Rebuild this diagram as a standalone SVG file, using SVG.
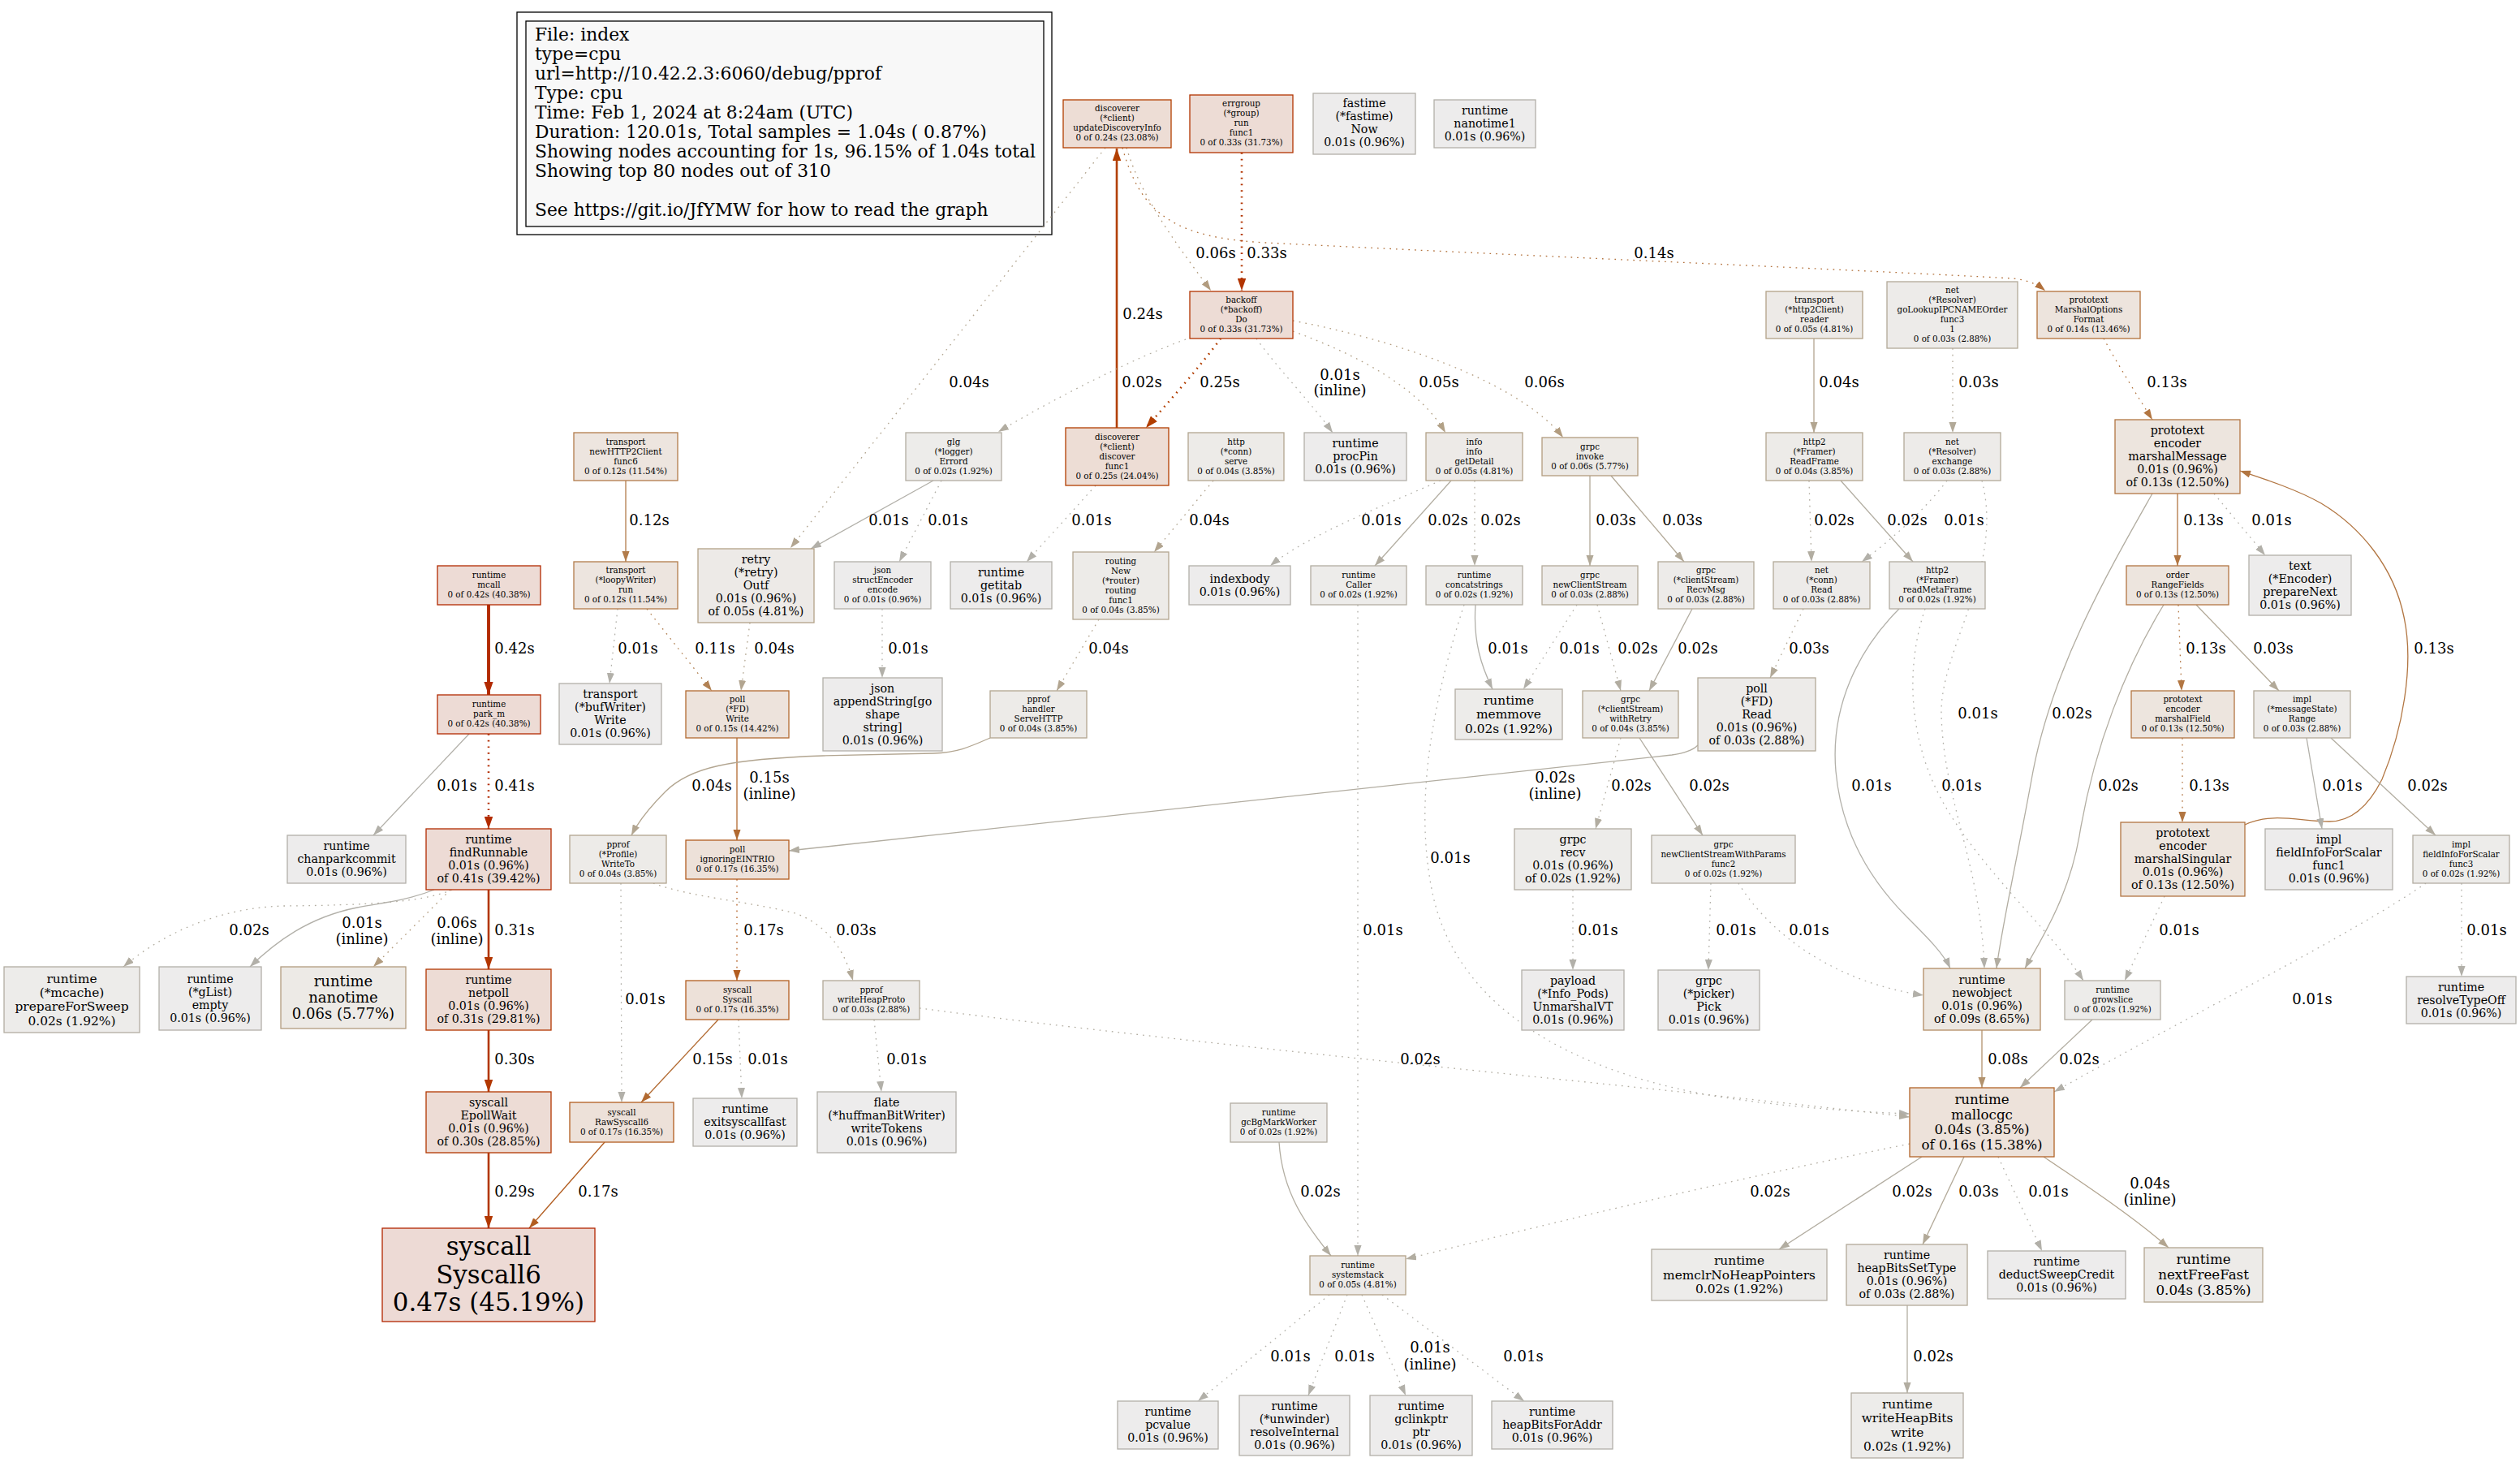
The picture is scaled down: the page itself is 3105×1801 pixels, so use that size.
<svg xmlns="http://www.w3.org/2000/svg" width="3105" height="1801" viewBox="0 0 3105 1801">
<style>
text{font-family:"DejaVu Serif","Liberation Serif",serif;text-anchor:middle;fill:#000}
.f8{font-size:10.3px}.f11{font-size:14.2px}.f12{font-size:15.4px}.f13{font-size:16.7px}.f14{font-size:18px}.f24{font-size:30.9px}
.lb{font-size:18px}
.lg{font-size:21.8px;text-anchor:start;white-space:pre}
.n rect{stroke-width:1.3}
.e path{fill:none;stroke-width:1.3}
.e .d{stroke-dasharray:1.7,6}
.e .w2{stroke-width:2.6}
.e .w3{stroke-width:3.9}
.c01 rect{fill:#edecec;stroke:#b2b0a9}.c02 rect{fill:#edecea;stroke:#b2ada1}.c03 rect{fill:#edebe9;stroke:#b2a998}
.c04 rect{fill:#edebe8;stroke:#b2a590}.c05 rect{fill:#edeae7;stroke:#b2a187}.c06 rect{fill:#edeae6;stroke:#b29c7f}
.c09 rect{fill:#ede8e2;stroke:#b28d65}.c12 rect{fill:#ede5df;stroke:#b27c4b}.c13 rect{fill:#ede5de;stroke:#b27642}
.c14 rect{fill:#ede4dd;stroke:#b2703a}.c15 rect{fill:#ede3dc;stroke:#b26a31}.c16 rect{fill:#ede2da;stroke:#b26429}
.c17 rect{fill:#ede1d9;stroke:#b25d20}.c24 rect{fill:#edddd5;stroke:#b23f00}.c25 rect{fill:#edddd5;stroke:#b23e00}
.c30 rect{fill:#eddcd5;stroke:#b23700}.c31 rect{fill:#eddcd5;stroke:#b23600}.c33 rect{fill:#eddcd5;stroke:#b23400}
.c41 rect{fill:#eddbd5;stroke:#b22b00}.c42 rect{fill:#eddbd5;stroke:#b22a00}.c47 rect{fill:#eddad5;stroke:#b22500}
.k01{stroke:#b2b0a9;marker-end:url(#m01)}.k02{stroke:#b2ada1;marker-end:url(#m02)}.k03{stroke:#b2a998;marker-end:url(#m03)}
.k04{stroke:#b2a590;marker-end:url(#m04)}.k05{stroke:#b2a187;marker-end:url(#m05)}.k06{stroke:#b29c7f;marker-end:url(#m06)}
.k08{stroke:#b2926d;marker-end:url(#m08)}.k11{stroke:#b28254;marker-end:url(#m11)}.k12{stroke:#b27c4b;marker-end:url(#m12)}
.k13{stroke:#b27642;marker-end:url(#m13)}.k14{stroke:#b2703a;marker-end:url(#m14)}.k15{stroke:#b26a31;marker-end:url(#m15)}
.k17{stroke:#b25d20;marker-end:url(#m17)}.k24{stroke:#b23f00;marker-end:url(#m24)}.k25{stroke:#b23e00;marker-end:url(#m25)}
.k29{stroke:#b23800;marker-end:url(#m29)}.k30{stroke:#b23700;marker-end:url(#m30)}.k31{stroke:#b23600;marker-end:url(#m31)}
.k33{stroke:#b23400;marker-end:url(#m33)}.k41{stroke:#b22b00;marker-end:url(#m41)}.k42{stroke:#b22a00;marker-end:url(#m42)}
</style>
<defs>
<marker id="m01" viewBox="0 0 10 7" refX="10" refY="3.5" markerWidth="13" markerHeight="9.1" markerUnits="userSpaceOnUse" orient="auto"><path d="M0,0L10,3.5L0,7z" fill="#b2b0a9"/></marker>
<marker id="m02" viewBox="0 0 10 7" refX="10" refY="3.5" markerWidth="13" markerHeight="9.1" markerUnits="userSpaceOnUse" orient="auto"><path d="M0,0L10,3.5L0,7z" fill="#b2ada1"/></marker>
<marker id="m03" viewBox="0 0 10 7" refX="10" refY="3.5" markerWidth="13" markerHeight="9.1" markerUnits="userSpaceOnUse" orient="auto"><path d="M0,0L10,3.5L0,7z" fill="#b2a998"/></marker>
<marker id="m04" viewBox="0 0 10 7" refX="10" refY="3.5" markerWidth="13" markerHeight="9.1" markerUnits="userSpaceOnUse" orient="auto"><path d="M0,0L10,3.5L0,7z" fill="#b2a590"/></marker>
<marker id="m05" viewBox="0 0 10 7" refX="10" refY="3.5" markerWidth="13" markerHeight="9.1" markerUnits="userSpaceOnUse" orient="auto"><path d="M0,0L10,3.5L0,7z" fill="#b2a187"/></marker>
<marker id="m06" viewBox="0 0 10 7" refX="10" refY="3.5" markerWidth="13" markerHeight="9.1" markerUnits="userSpaceOnUse" orient="auto"><path d="M0,0L10,3.5L0,7z" fill="#b29c7f"/></marker>
<marker id="m08" viewBox="0 0 10 7" refX="10" refY="3.5" markerWidth="13" markerHeight="9.1" markerUnits="userSpaceOnUse" orient="auto"><path d="M0,0L10,3.5L0,7z" fill="#b2926d"/></marker>
<marker id="m11" viewBox="0 0 10 7" refX="10" refY="3.5" markerWidth="13" markerHeight="9.1" markerUnits="userSpaceOnUse" orient="auto"><path d="M0,0L10,3.5L0,7z" fill="#b28254"/></marker>
<marker id="m12" viewBox="0 0 10 7" refX="10" refY="3.5" markerWidth="13" markerHeight="9.1" markerUnits="userSpaceOnUse" orient="auto"><path d="M0,0L10,3.5L0,7z" fill="#b27c4b"/></marker>
<marker id="m13" viewBox="0 0 10 7" refX="10" refY="3.5" markerWidth="13" markerHeight="9.1" markerUnits="userSpaceOnUse" orient="auto"><path d="M0,0L10,3.5L0,7z" fill="#b27642"/></marker>
<marker id="m14" viewBox="0 0 10 7" refX="10" refY="3.5" markerWidth="13" markerHeight="9.1" markerUnits="userSpaceOnUse" orient="auto"><path d="M0,0L10,3.5L0,7z" fill="#b2703a"/></marker>
<marker id="m15" viewBox="0 0 10 7" refX="10" refY="3.5" markerWidth="13" markerHeight="9.1" markerUnits="userSpaceOnUse" orient="auto"><path d="M0,0L10,3.5L0,7z" fill="#b26a31"/></marker>
<marker id="m17" viewBox="0 0 10 7" refX="10" refY="3.5" markerWidth="13" markerHeight="9.1" markerUnits="userSpaceOnUse" orient="auto"><path d="M0,0L10,3.5L0,7z" fill="#b25d20"/></marker>
<marker id="m24" viewBox="0 0 10 7" refX="10" refY="3.5" markerWidth="15" markerHeight="10.5" markerUnits="userSpaceOnUse" orient="auto"><path d="M0,0L10,3.5L0,7z" fill="#b23f00"/></marker>
<marker id="m25" viewBox="0 0 10 7" refX="10" refY="3.5" markerWidth="15" markerHeight="10.5" markerUnits="userSpaceOnUse" orient="auto"><path d="M0,0L10,3.5L0,7z" fill="#b23e00"/></marker>
<marker id="m29" viewBox="0 0 10 7" refX="10" refY="3.5" markerWidth="15" markerHeight="10.5" markerUnits="userSpaceOnUse" orient="auto"><path d="M0,0L10,3.5L0,7z" fill="#b23800"/></marker>
<marker id="m30" viewBox="0 0 10 7" refX="10" refY="3.5" markerWidth="15" markerHeight="10.5" markerUnits="userSpaceOnUse" orient="auto"><path d="M0,0L10,3.5L0,7z" fill="#b23700"/></marker>
<marker id="m31" viewBox="0 0 10 7" refX="10" refY="3.5" markerWidth="15" markerHeight="10.5" markerUnits="userSpaceOnUse" orient="auto"><path d="M0,0L10,3.5L0,7z" fill="#b23600"/></marker>
<marker id="m33" viewBox="0 0 10 7" refX="10" refY="3.5" markerWidth="15" markerHeight="10.5" markerUnits="userSpaceOnUse" orient="auto"><path d="M0,0L10,3.5L0,7z" fill="#b23400"/></marker>
<marker id="m41" viewBox="0 0 10 7" refX="10" refY="3.5" markerWidth="15" markerHeight="10.5" markerUnits="userSpaceOnUse" orient="auto"><path d="M0,0L10,3.5L0,7z" fill="#b22b00"/></marker>
<marker id="m42" viewBox="0 0 10 7" refX="10" refY="3.5" markerWidth="16" markerHeight="11.2" markerUnits="userSpaceOnUse" orient="auto"><path d="M0,0L10,3.5L0,7z" fill="#b22a00"/></marker>
</defs>
<rect x="0" y="0" width="3105" height="1801" fill="#fff"/>
<g id="legend">
<rect x="637" y="15" width="659" height="274" fill="#fff" stroke="#000" stroke-width="1.3"/>
<rect x="648" y="26" width="638" height="253" fill="#f8f8f8" stroke="#000" stroke-width="1.3"/>
<text class="lg" x="659" y="49.5">File: index</text>
<text class="lg" x="659" y="73.5">type=cpu</text>
<text class="lg" x="659" y="97.5">url=http://10.42.2.3:6060/debug/pprof</text>
<text class="lg" x="659" y="121.5">Type: cpu</text>
<text class="lg" x="659" y="145.5">Time: Feb 1, 2024 at 8:24am (UTC)</text>
<text class="lg" x="659" y="169.5">Duration: 120.01s, Total samples = 1.04s ( 0.87%)</text>
<text class="lg" x="659" y="193.5">Showing nodes accounting for 1s, 96.15% of 1.04s total</text>
<text class="lg" x="659" y="217.5">Showing top 80 nodes out of 310</text>
<text class="lg" x="659" y="265.5">See https://git.io/JfYMW for how to read the graph</text>
</g>
<g id="edges" class="e">
<path class="k24 w2" d="M1376,527 L1376,183"/>
<path class="k33 w2 d" d="M1530,188 L1530,358"/>
<path class="k06 d" d="M1388,182 C1405,240 1445,295 1492,358"/>
<path class="k14 d" d="M1383,182 C1405,262 1445,293 1560,299 C1900,316 2300,333 2480,343 C2498,345 2510,350 2520,358"/>
<path class="k04 d" d="M1362,182 L974,675"/>
<path class="k25 w2 d" d="M1504,417 C1480,450 1440,495 1412,527"/>
<path class="k02 d" d="M1461,418 C1400,440 1300,490 1230,532"/>
<path class="k01 d" d="M1548,417 C1575,455 1615,495 1642,533"/>
<path class="k05 d" d="M1593,408 C1680,440 1750,480 1781,533"/>
<path class="k06 d" d="M1593,395 C1750,425 1880,480 1926,539"/>
<path class="k04" d="M2235,417 L2235,533"/>
<path class="k03 d" d="M2406,429 L2406,533"/>
<path class="k13 d" d="M2592,417 C2610,450 2635,490 2652,517"/>
<path class="k12" d="M771,592 L771,692"/>
<path class="k01" d="M1150,592 L999,676"/>
<path class="k01 d" d="M1160,592 L1108,692"/>
<path class="k01 d" d="M1350,598 L1265,692"/>
<path class="k04 d" d="M1495,592 L1422,680"/>
<path class="k01 d" d="M1775,592 C1700,625 1610,660 1565,697"/>
<path class="k02" d="M1788,592 L1694,697"/>
<path class="k02 d" d="M1817,592 L1817,697"/>
<path class="k03" d="M1959,586 L1959,697"/>
<path class="k03" d="M1985,586 L2075,692"/>
<path class="k02 d" d="M2229,592 L2232,692"/>
<path class="k02" d="M2268,592 L2357,692"/>
<path class="k01 d" d="M2399,592 C2370,630 2330,665 2294,692"/>
<path class="k01 d" d="M2442,592 C2470,700 2390,800 2392,880 C2395,990 2440,1060 2445,1193"/>
<path class="k13" d="M2683,608 L2683,697"/>
<path class="k01 d" d="M2728,608 L2791,684"/>
<path class="k02" d="M2652,608 C2600,700 2530,820 2505,950 C2485,1060 2465,1150 2460,1193"/>
<path class="k13" d="M2766,1016 C2800,1000 2835,1012 2870,1012 C2900,1012 2920,990 2935,960 C2960,900 2975,820 2962,760 C2950,700 2910,650 2860,620 C2830,603 2790,590 2760,580"/>
<path class="k02" d="M2666,745 C2620,820 2580,920 2562,1030 C2548,1110 2510,1165 2495,1193"/>
<path class="k13 d" d="M2684,745 L2688,851"/>
<path class="k03" d="M2706,745 L2808,851"/>
<path class="k13 d" d="M2689,909 L2689,1013"/>
<path class="k01" d="M2842,909 L2861,1021"/>
<path class="k02" d="M2872,909 L3001,1029"/>
<path class="k01 d" d="M2667,1104 L2618,1208"/>
<path class="k01 d" d="M2989,1088 C2900,1150 2700,1250 2531,1345"/>
<path class="k01 d" d="M3033,1088 L3033,1203"/>
<path class="k01" d="M2340,750 C2290,800 2255,870 2262,950 C2270,1040 2320,1100 2350,1130 C2375,1155 2395,1175 2403,1193"/>
<path class="k01 d" d="M2372,750 C2345,830 2355,920 2395,990 C2440,1070 2530,1150 2567,1208"/>
<path class="k42 w3" d="M602,745 L602,856"/>
<path class="k01 d" d="M761,750 L751,842"/>
<path class="k11 d" d="M797,750 L877,851"/>
<path class="k04 d" d="M924,767 L913,851"/>
<path class="k01 d" d="M1087,750 L1087,835"/>
<path class="k04 d" d="M1354,763 L1302,851"/>
<path class="k01" d="M1818,745 C1815,790 1825,820 1839,849"/>
<path class="k01 d" d="M1943,745 L1877,849"/>
<path class="k02 d" d="M1968,745 L1997,851"/>
<path class="k02" d="M2085,750 L2032,851"/>
<path class="k03 d" d="M2222,750 L2181,835"/>
<path class="k41 w2 d" d="M602,904 L602,1021"/>
<path class="k01" d="M578,904 L460,1029"/>
<path class="k15" d="M908,909 L908,1035"/>
<path class="k04" d="M1220,909 C1195,920 1180,927 1150,928 L1014,931 C900,935 850,945 820,975 C800,995 785,1015 778,1029"/>
<path class="k02" d="M2092,918 C2085,925 2075,928 2060,930 L972,1048"/>
<path class="k02 d" d="M557,1096 C520,1112 450,1115 350,1116 C270,1118 200,1150 152,1191"/>
<path class="k01" d="M535,1096 C500,1110 470,1112 440,1118 C380,1130 340,1160 308,1191"/>
<path class="k06 d" d="M555,1096 L460,1191"/>
<path class="k31 w2" d="M602,1096 L602,1194"/>
<path class="k01 d" d="M765,1088 L766,1358"/>
<path class="k03 d" d="M805,1088 C850,1105 920,1110 980,1125 C1020,1140 1040,1170 1051,1208"/>
<path class="k17 d" d="M908,1083 L908,1208"/>
<path class="k01 d" d="M1938,1096 L1938,1195"/>
<path class="k01 d" d="M2108,1088 L2105,1195"/>
<path class="k01 d" d="M2142,1088 C2180,1150 2260,1210 2370,1226"/>
<path class="k02 d" d="M1997,909 L1966,1021"/>
<path class="k02" d="M2020,909 L2098,1029"/>
<path class="k01 d" d="M1804,745 C1770,850 1740,980 1765,1100 C1790,1220 1900,1310 2100,1348 C2200,1365 2300,1370 2353,1372"/>
<path class="k02 d" d="M1133,1242 C1500,1290 2000,1335 2353,1376"/>
<path class="k01 d" d="M1673,745 L1673,1547"/>
<path class="k02" d="M1576,1407 C1580,1470 1610,1510 1640,1547"/>
<path class="k02 d" d="M2353,1409 C2100,1460 1900,1510 1732,1551"/>
<path class="k02" d="M2368,1425 L2192,1539"/>
<path class="k03" d="M2420,1425 L2369,1533"/>
<path class="k01 d" d="M2462,1425 L2516,1541"/>
<path class="k04" d="M2518,1425 C2570,1460 2630,1500 2672,1537"/>
<path class="k02" d="M2350,1608 L2350,1716"/>
<path class="k01 d" d="M1638,1595 L1476,1726"/>
<path class="k01 d" d="M1660,1595 L1612,1719"/>
<path class="k01 d" d="M1678,1595 L1732,1719"/>
<path class="k01 d" d="M1703,1595 L1878,1726"/>
<path class="k30 w2" d="M602,1269 L602,1345"/>
<path class="k29 w2" d="M602,1420 L602,1513"/>
<path class="k17" d="M745,1407 L652,1513"/>
<path class="k15" d="M885,1256 L790,1358"/>
<path class="k01 d" d="M910,1256 L914,1353"/>
<path class="k01 d" d="M1077,1256 L1086,1345"/>
<path class="k08" d="M2442,1269 L2442,1340"/>
<path class="k02" d="M2578,1256 L2489,1340"/>
</g>
<g id="edge-labels" class="lb">
<text class="lb" x="1408" y="393">0.24s</text>
<text class="lb" x="1561" y="318">0.33s</text>
<text class="lb" x="1498" y="318">0.06s</text>
<text class="lb" x="2038" y="318">0.14s</text>
<text class="lb" x="1194" y="477">0.04s</text>
<text class="lb" x="1503" y="477">0.25s</text>
<text class="lb" x="1407" y="477">0.02s</text>
<text class="lb" x="1651" y="468">0.01s</text><text class="lb" x="1651" y="487">(inline)</text>
<text class="lb" x="1773" y="477">0.05s</text>
<text class="lb" x="1903" y="477">0.06s</text>
<text class="lb" x="2266" y="477">0.04s</text>
<text class="lb" x="2438" y="477">0.03s</text>
<text class="lb" x="2670" y="477">0.13s</text>
<text class="lb" x="800" y="647">0.12s</text>
<text class="lb" x="1095" y="647">0.01s</text>
<text class="lb" x="1168" y="647">0.01s</text>
<text class="lb" x="1345" y="647">0.01s</text>
<text class="lb" x="1490" y="647">0.04s</text>
<text class="lb" x="1702" y="647">0.01s</text>
<text class="lb" x="1784" y="647">0.02s</text>
<text class="lb" x="1849" y="647">0.02s</text>
<text class="lb" x="1991" y="647">0.03s</text>
<text class="lb" x="2073" y="647">0.03s</text>
<text class="lb" x="2260" y="647">0.02s</text>
<text class="lb" x="2350" y="647">0.02s</text>
<text class="lb" x="2420" y="647">0.01s</text>
<text class="lb" x="2437" y="885">0.01s</text>
<text class="lb" x="2715" y="647">0.13s</text>
<text class="lb" x="2799" y="647">0.01s</text>
<text class="lb" x="2553" y="885">0.02s</text>
<text class="lb" x="2999" y="805">0.13s</text>
<text class="lb" x="2610" y="974">0.02s</text>
<text class="lb" x="2718" y="805">0.13s</text>
<text class="lb" x="2801" y="805">0.03s</text>
<text class="lb" x="2722" y="974">0.13s</text>
<text class="lb" x="2886" y="974">0.01s</text>
<text class="lb" x="2991" y="974">0.02s</text>
<text class="lb" x="2685" y="1152">0.01s</text>
<text class="lb" x="2849" y="1237">0.01s</text>
<text class="lb" x="3064" y="1152">0.01s</text>
<text class="lb" x="2306" y="974">0.01s</text>
<text class="lb" x="2417" y="974">0.01s</text>
<text class="lb" x="634" y="805">0.42s</text>
<text class="lb" x="786" y="805">0.01s</text>
<text class="lb" x="881" y="805">0.11s</text>
<text class="lb" x="954" y="805">0.04s</text>
<text class="lb" x="1119" y="805">0.01s</text>
<text class="lb" x="1366" y="805">0.04s</text>
<text class="lb" x="1858" y="805">0.01s</text>
<text class="lb" x="1946" y="805">0.01s</text>
<text class="lb" x="2018" y="805">0.02s</text>
<text class="lb" x="2092" y="805">0.02s</text>
<text class="lb" x="2229" y="805">0.03s</text>
<text class="lb" x="634" y="974">0.41s</text>
<text class="lb" x="563" y="974">0.01s</text>
<text class="lb" x="948" y="964">0.15s</text><text class="lb" x="948" y="984">(inline)</text>
<text class="lb" x="877" y="974">0.04s</text>
<text class="lb" x="1916" y="964">0.02s</text><text class="lb" x="1916" y="984">(inline)</text>
<text class="lb" x="307" y="1152">0.02s</text>
<text class="lb" x="446" y="1143">0.01s</text><text class="lb" x="446" y="1163">(inline)</text>
<text class="lb" x="563" y="1143">0.06s</text><text class="lb" x="563" y="1163">(inline)</text>
<text class="lb" x="634" y="1152">0.31s</text>
<text class="lb" x="795" y="1237">0.01s</text>
<text class="lb" x="1055" y="1152">0.03s</text>
<text class="lb" x="941" y="1152">0.17s</text>
<text class="lb" x="1969" y="1152">0.01s</text>
<text class="lb" x="2139" y="1152">0.01s</text>
<text class="lb" x="2229" y="1152">0.01s</text>
<text class="lb" x="2010" y="974">0.02s</text>
<text class="lb" x="2106" y="974">0.02s</text>
<text class="lb" x="1787" y="1063">0.01s</text>
<text class="lb" x="1750" y="1311">0.02s</text>
<text class="lb" x="1704" y="1152">0.01s</text>
<text class="lb" x="1627" y="1474">0.02s</text>
<text class="lb" x="2181" y="1474">0.02s</text>
<text class="lb" x="2356" y="1474">0.02s</text>
<text class="lb" x="2438" y="1474">0.03s</text>
<text class="lb" x="2524" y="1474">0.01s</text>
<text class="lb" x="2649" y="1464">0.04s</text><text class="lb" x="2649" y="1484">(inline)</text>
<text class="lb" x="2382" y="1677">0.02s</text>
<text class="lb" x="1590" y="1677">0.01s</text>
<text class="lb" x="1669" y="1677">0.01s</text>
<text class="lb" x="1762" y="1666">0.01s</text><text class="lb" x="1762" y="1687">(inline)</text>
<text class="lb" x="1877" y="1677">0.01s</text>
<text class="lb" x="634" y="1311">0.30s</text>
<text class="lb" x="634" y="1474">0.29s</text>
<text class="lb" x="737" y="1474">0.17s</text>
<text class="lb" x="878" y="1311">0.15s</text>
<text class="lb" x="946" y="1311">0.01s</text>
<text class="lb" x="1117" y="1311">0.01s</text>
<text class="lb" x="2474" y="1311">0.08s</text>
<text class="lb" x="2562" y="1311">0.02s</text>
</g>
<g id="nodes">
<g id="n1" class="n c24"><rect x="1310" y="123" width="133" height="59"/><text class="f8" y="137"><tspan x="1376.5">discoverer</tspan><tspan x="1376.5" dy="12">(*client)</tspan><tspan x="1376.5" dy="12">updateDiscoveryInfo</tspan><tspan x="1376.5" dy="12">0 of 0.24s (23.08%)</tspan></text></g>
<g id="n2" class="n c33"><rect x="1466" y="117" width="127" height="71"/><text class="f8" y="131"><tspan x="1529.5">errgroup</tspan><tspan x="1529.5" dy="12">(*group)</tspan><tspan x="1529.5" dy="12">run</tspan><tspan x="1529.5" dy="12">func1</tspan><tspan x="1529.5" dy="12">0 of 0.33s (31.73%)</tspan></text></g>
<g id="n3" class="n c01"><rect x="1618" y="115" width="126" height="75"/><text class="f11" y="132"><tspan x="1681">fastime</tspan><tspan x="1681" dy="16.1">(*fastime)</tspan><tspan x="1681" dy="16.1">Now</tspan><tspan x="1681" dy="16.1">0.01s (0.96%)</tspan></text></g>
<g id="n4" class="n c01"><rect x="1767" y="123" width="125" height="59"/><text class="f11" y="140.5"><tspan x="1829.5">runtime</tspan><tspan x="1829.5" dy="16.1">nanotime1</tspan><tspan x="1829.5" dy="16.1">0.01s (0.96%)</tspan></text></g>
<g id="n5" class="n c33"><rect x="1466" y="359" width="127" height="58"/><text class="f8" y="373.4"><tspan x="1529.5">backoff</tspan><tspan x="1529.5" dy="12">(*backoff)</tspan><tspan x="1529.5" dy="12">Do</tspan><tspan x="1529.5" dy="12">0 of 0.33s (31.73%)</tspan></text></g>
<g id="n6" class="n c05"><rect x="2176" y="359" width="119" height="58"/><text class="f8" y="373.4"><tspan x="2235.5">transport</tspan><tspan x="2235.5" dy="12">(*http2Client)</tspan><tspan x="2235.5" dy="12">reader</tspan><tspan x="2235.5" dy="12">0 of 0.05s (4.81%)</tspan></text></g>
<g id="n7" class="n c03"><rect x="2325" y="347" width="161" height="82"/><text class="f8" y="361.4"><tspan x="2405.5">net</tspan><tspan x="2405.5" dy="12">(*Resolver)</tspan><tspan x="2405.5" dy="12">goLookupIPCNAMEOrder</tspan><tspan x="2405.5" dy="12">func3</tspan><tspan x="2405.5" dy="12">1</tspan><tspan x="2405.5" dy="12">0 of 0.03s (2.88%)</tspan></text></g>
<g id="n8" class="n c14"><rect x="2510" y="359" width="127" height="58"/><text class="f8" y="373.4"><tspan x="2573.5">prototext</tspan><tspan x="2573.5" dy="12">MarshalOptions</tspan><tspan x="2573.5" dy="12">Format</tspan><tspan x="2573.5" dy="12">0 of 0.14s (13.46%)</tspan></text></g>
<g id="n9" class="n c12"><rect x="707" y="533" width="128" height="59"/><text class="f8" y="547.9"><tspan x="771">transport</tspan><tspan x="771" dy="12">newHTTP2Client</tspan><tspan x="771" dy="12">func6</tspan><tspan x="771" dy="12">0 of 0.12s (11.54%)</tspan></text></g>
<g id="n10" class="n c02"><rect x="1116" y="533" width="118" height="59"/><text class="f8" y="547.9"><tspan x="1175">glg</tspan><tspan x="1175" dy="12">(*logger)</tspan><tspan x="1175" dy="12">Errord</tspan><tspan x="1175" dy="12">0 of 0.02s (1.92%)</tspan></text></g>
<g id="n11" class="n c25"><rect x="1313" y="527" width="127" height="71"/><text class="f8" y="541.9"><tspan x="1376.5">discoverer</tspan><tspan x="1376.5" dy="12">(*client)</tspan><tspan x="1376.5" dy="12">discover</tspan><tspan x="1376.5" dy="12">func1</tspan><tspan x="1376.5" dy="12">0 of 0.25s (24.04%)</tspan></text></g>
<g id="n12" class="n c04"><rect x="1464" y="533" width="118" height="59"/><text class="f8" y="547.9"><tspan x="1523">http</tspan><tspan x="1523" dy="12">(*conn)</tspan><tspan x="1523" dy="12">serve</tspan><tspan x="1523" dy="12">0 of 0.04s (3.85%)</tspan></text></g>
<g id="n13" class="n c01"><rect x="1607" y="533" width="126" height="59"/><text class="f11" y="551.1"><tspan x="1670">runtime</tspan><tspan x="1670" dy="16.1">procPin</tspan><tspan x="1670" dy="16.1">0.01s (0.96%)</tspan></text></g>
<g id="n14" class="n c05"><rect x="1757" y="533" width="119" height="59"/><text class="f8" y="547.9"><tspan x="1816.5">info</tspan><tspan x="1816.5" dy="12">info</tspan><tspan x="1816.5" dy="12">getDetail</tspan><tspan x="1816.5" dy="12">0 of 0.05s (4.81%)</tspan></text></g>
<g id="n15" class="n c06"><rect x="1900" y="539" width="118" height="47"/><text class="f8" y="553.9"><tspan x="1959">grpc</tspan><tspan x="1959" dy="12">invoke</tspan><tspan x="1959" dy="12">0 of 0.06s (5.77%)</tspan></text></g>
<g id="n16" class="n c04"><rect x="2176" y="533" width="119" height="59"/><text class="f8" y="547.9"><tspan x="2235.5">http2</tspan><tspan x="2235.5" dy="12">(*Framer)</tspan><tspan x="2235.5" dy="12">ReadFrame</tspan><tspan x="2235.5" dy="12">0 of 0.04s (3.85%)</tspan></text></g>
<g id="n17" class="n c03"><rect x="2346" y="533" width="119" height="59"/><text class="f8" y="547.9"><tspan x="2405.5">net</tspan><tspan x="2405.5" dy="12">(*Resolver)</tspan><tspan x="2405.5" dy="12">exchange</tspan><tspan x="2405.5" dy="12">0 of 0.03s (2.88%)</tspan></text></g>
<g id="n18" class="n c13"><rect x="2606" y="517" width="154" height="91"/><text class="f11" y="534.5"><tspan x="2683">prototext</tspan><tspan x="2683" dy="16.1">encoder</tspan><tspan x="2683" dy="16.1">marshalMessage</tspan><tspan x="2683" dy="16.1">0.01s (0.96%)</tspan><tspan x="2683" dy="16.1">of 0.13s (12.50%)</tspan></text></g>
<g id="n19" class="n c42"><rect x="539" y="697" width="127" height="48"/><text class="f8" y="712.4"><tspan x="602.5">runtime</tspan><tspan x="602.5" dy="12">mcall</tspan><tspan x="602.5" dy="12">0 of 0.42s (40.38%)</tspan></text></g>
<g id="n20" class="n c12"><rect x="707" y="692" width="128" height="58"/><text class="f8" y="706.4"><tspan x="771">transport</tspan><tspan x="771" dy="12">(*loopyWriter)</tspan><tspan x="771" dy="12">run</tspan><tspan x="771" dy="12">0 of 0.12s (11.54%)</tspan></text></g>
<g id="n21" class="n c05"><rect x="860" y="676" width="143" height="91"/><text class="f11" y="694"><tspan x="931.5">retry</tspan><tspan x="931.5" dy="16.1">(*retry)</tspan><tspan x="931.5" dy="16.1">Outf</tspan><tspan x="931.5" dy="16.1">0.01s (0.96%)</tspan><tspan x="931.5" dy="16.1">of 0.05s (4.81%)</tspan></text></g>
<g id="n22" class="n c01"><rect x="1028" y="692" width="119" height="58"/><text class="f8" y="706.4"><tspan x="1087.5">json</tspan><tspan x="1087.5" dy="12">structEncoder</tspan><tspan x="1087.5" dy="12">encode</tspan><tspan x="1087.5" dy="12">0 of 0.01s (0.96%)</tspan></text></g>
<g id="n23" class="n c01"><rect x="1171" y="692" width="125" height="58"/><text class="f11" y="709.6"><tspan x="1233.5">runtime</tspan><tspan x="1233.5" dy="16.1">getitab</tspan><tspan x="1233.5" dy="16.1">0.01s (0.96%)</tspan></text></g>
<g id="n24" class="n c04"><rect x="1322" y="680" width="118" height="83"/><text class="f8" y="694.9"><tspan x="1381">routing</tspan><tspan x="1381" dy="12">New</tspan><tspan x="1381" dy="12">(*router)</tspan><tspan x="1381" dy="12">routing</tspan><tspan x="1381" dy="12">func1</tspan><tspan x="1381" dy="12">0 of 0.04s (3.85%)</tspan></text></g>
<g id="n25" class="n c01"><rect x="1465" y="697" width="125" height="48"/><text class="f11" y="717.7"><tspan x="1527.5">indexbody</tspan><tspan x="1527.5" dy="16.1">0.01s (0.96%)</tspan></text></g>
<g id="n26" class="n c02"><rect x="1615" y="697" width="118" height="48"/><text class="f8" y="712.4"><tspan x="1674">runtime</tspan><tspan x="1674" dy="12">Caller</tspan><tspan x="1674" dy="12">0 of 0.02s (1.92%)</tspan></text></g>
<g id="n27" class="n c02"><rect x="1757" y="697" width="119" height="48"/><text class="f8" y="712.4"><tspan x="1816.5">runtime</tspan><tspan x="1816.5" dy="12">concatstrings</tspan><tspan x="1816.5" dy="12">0 of 0.02s (1.92%)</tspan></text></g>
<g id="n28" class="n c03"><rect x="1900" y="697" width="118" height="48"/><text class="f8" y="712.4"><tspan x="1959">grpc</tspan><tspan x="1959" dy="12">newClientStream</tspan><tspan x="1959" dy="12">0 of 0.03s (2.88%)</tspan></text></g>
<g id="n29" class="n c03"><rect x="2043" y="692" width="118" height="58"/><text class="f8" y="706.4"><tspan x="2102">grpc</tspan><tspan x="2102" dy="12">(*clientStream)</tspan><tspan x="2102" dy="12">RecvMsg</tspan><tspan x="2102" dy="12">0 of 0.03s (2.88%)</tspan></text></g>
<g id="n30" class="n c03"><rect x="2185" y="692" width="119" height="58"/><text class="f8" y="706.4"><tspan x="2244.5">net</tspan><tspan x="2244.5" dy="12">(*conn)</tspan><tspan x="2244.5" dy="12">Read</tspan><tspan x="2244.5" dy="12">0 of 0.03s (2.88%)</tspan></text></g>
<g id="n31" class="n c02"><rect x="2328" y="692" width="118" height="58"/><text class="f8" y="706.4"><tspan x="2387">http2</tspan><tspan x="2387" dy="12">(*Framer)</tspan><tspan x="2387" dy="12">readMetaFrame</tspan><tspan x="2387" dy="12">0 of 0.02s (1.92%)</tspan></text></g>
<g id="n32" class="n c13"><rect x="2620" y="697" width="126" height="48"/><text class="f8" y="712.4"><tspan x="2683">order</tspan><tspan x="2683" dy="12">RangeFields</tspan><tspan x="2683" dy="12">0 of 0.13s (12.50%)</tspan></text></g>
<g id="n33" class="n c01"><rect x="2771" y="684" width="126" height="74"/><text class="f11" y="701.6"><tspan x="2834">text</tspan><tspan x="2834" dy="16.1">(*Encoder)</tspan><tspan x="2834" dy="16.1">prepareNext</tspan><tspan x="2834" dy="16.1">0.01s (0.96%)</tspan></text></g>
<g id="n34" class="n c42"><rect x="539" y="856" width="127" height="48"/><text class="f8" y="871.4"><tspan x="602.5">runtime</tspan><tspan x="602.5" dy="12">park_m</tspan><tspan x="602.5" dy="12">0 of 0.42s (40.38%)</tspan></text></g>
<g id="n35" class="n c01"><rect x="689" y="842" width="126" height="75"/><text class="f11" y="860"><tspan x="752">transport</tspan><tspan x="752" dy="16.1">(*bufWriter)</tspan><tspan x="752" dy="16.1">Write</tspan><tspan x="752" dy="16.1">0.01s (0.96%)</tspan></text></g>
<g id="n36" class="n c15"><rect x="845" y="851" width="127" height="58"/><text class="f8" y="865.4"><tspan x="908.5">poll</tspan><tspan x="908.5" dy="12">(*FD)</tspan><tspan x="908.5" dy="12">Write</tspan><tspan x="908.5" dy="12">0 of 0.15s (14.42%)</tspan></text></g>
<g id="n37" class="n c01"><rect x="1014" y="835" width="147" height="90"/><text class="f11" y="852.5"><tspan x="1087.5">json</tspan><tspan x="1087.5" dy="16.1">appendString[go</tspan><tspan x="1087.5" dy="16.1">shape</tspan><tspan x="1087.5" dy="16.1">string]</tspan><tspan x="1087.5" dy="16.1">0.01s (0.96%)</tspan></text></g>
<g id="n38" class="n c04"><rect x="1220" y="851" width="119" height="58"/><text class="f8" y="865.4"><tspan x="1279.5">pprof</tspan><tspan x="1279.5" dy="12">handler</tspan><tspan x="1279.5" dy="12">ServeHTTP</tspan><tspan x="1279.5" dy="12">0 of 0.04s (3.85%)</tspan></text></g>
<g id="n39" class="n c02"><rect x="1793" y="849" width="132" height="62"/><text class="f12" y="867.7"><tspan x="1859">runtime</tspan><tspan x="1859" dy="17.4">memmove</tspan><tspan x="1859" dy="17.4">0.02s (1.92%)</tspan></text></g>
<g id="n40" class="n c04"><rect x="1950" y="851" width="118" height="58"/><text class="f8" y="865.4"><tspan x="2009">grpc</tspan><tspan x="2009" dy="12">(*clientStream)</tspan><tspan x="2009" dy="12">withRetry</tspan><tspan x="2009" dy="12">0 of 0.04s (3.85%)</tspan></text></g>
<g id="n41" class="n c03"><rect x="2092" y="835" width="145" height="90"/><text class="f11" y="852.5"><tspan x="2164.5">poll</tspan><tspan x="2164.5" dy="16.1">(*FD)</tspan><tspan x="2164.5" dy="16.1">Read</tspan><tspan x="2164.5" dy="16.1">0.01s (0.96%)</tspan><tspan x="2164.5" dy="16.1">of 0.03s (2.88%)</tspan></text></g>
<g id="n42" class="n c13"><rect x="2626" y="851" width="127" height="58"/><text class="f8" y="865.4"><tspan x="2689.5">prototext</tspan><tspan x="2689.5" dy="12">encoder</tspan><tspan x="2689.5" dy="12">marshalField</tspan><tspan x="2689.5" dy="12">0 of 0.13s (12.50%)</tspan></text></g>
<g id="n43" class="n c03"><rect x="2777" y="851" width="119" height="58"/><text class="f8" y="865.4"><tspan x="2836.5">impl</tspan><tspan x="2836.5" dy="12">(*messageState)</tspan><tspan x="2836.5" dy="12">Range</tspan><tspan x="2836.5" dy="12">0 of 0.03s (2.88%)</tspan></text></g>
<g id="n44" class="n c01"><rect x="354" y="1029" width="146" height="59"/><text class="f11" y="1047.1"><tspan x="427">runtime</tspan><tspan x="427" dy="16.1">chanparkcommit</tspan><tspan x="427" dy="16.1">0.01s (0.96%)</tspan></text></g>
<g id="n45" class="n c41"><rect x="525" y="1021" width="154" height="75"/><text class="f11" y="1039"><tspan x="602">runtime</tspan><tspan x="602" dy="16.1">findRunnable</tspan><tspan x="602" dy="16.1">0.01s (0.96%)</tspan><tspan x="602" dy="16.1">of 0.41s (39.42%)</tspan></text></g>
<g id="n46" class="n c04"><rect x="702" y="1029" width="119" height="59"/><text class="f8" y="1043.9"><tspan x="761.5">pprof</tspan><tspan x="761.5" dy="12">(*Profile)</tspan><tspan x="761.5" dy="12">WriteTo</tspan><tspan x="761.5" dy="12">0 of 0.04s (3.85%)</tspan></text></g>
<g id="n47" class="n c17"><rect x="845" y="1035" width="127" height="48"/><text class="f8" y="1050.4"><tspan x="908.5">poll</tspan><tspan x="908.5" dy="12">ignoringEINTRIO</tspan><tspan x="908.5" dy="12">0 of 0.17s (16.35%)</tspan></text></g>
<g id="n48" class="n c02"><rect x="1866" y="1021" width="144" height="75"/><text class="f11" y="1039"><tspan x="1938">grpc</tspan><tspan x="1938" dy="16.1">recv</tspan><tspan x="1938" dy="16.1">0.01s (0.96%)</tspan><tspan x="1938" dy="16.1">of 0.02s (1.92%)</tspan></text></g>
<g id="n49" class="n c02"><rect x="2035" y="1029" width="177" height="59"/><text class="f8" y="1043.9"><tspan x="2123.5">grpc</tspan><tspan x="2123.5" dy="12">newClientStreamWithParams</tspan><tspan x="2123.5" dy="12">func2</tspan><tspan x="2123.5" dy="12">0 of 0.02s (1.92%)</tspan></text></g>
<g id="n50" class="n c13"><rect x="2613" y="1013" width="153" height="91"/><text class="f11" y="1031"><tspan x="2689.5">prototext</tspan><tspan x="2689.5" dy="16.1">encoder</tspan><tspan x="2689.5" dy="16.1">marshalSingular</tspan><tspan x="2689.5" dy="16.1">0.01s (0.96%)</tspan><tspan x="2689.5" dy="16.1">of 0.13s (12.50%)</tspan></text></g>
<g id="n51" class="n c01"><rect x="2791" y="1021" width="157" height="75"/><text class="f11" y="1039"><tspan x="2869.5">impl</tspan><tspan x="2869.5" dy="16.1">fieldInfoForScalar</tspan><tspan x="2869.5" dy="16.1">func1</tspan><tspan x="2869.5" dy="16.1">0.01s (0.96%)</tspan></text></g>
<g id="n52" class="n c02"><rect x="2973" y="1029" width="119" height="59"/><text class="f8" y="1043.9"><tspan x="3032.5">impl</tspan><tspan x="3032.5" dy="12">fieldInfoForScalar</tspan><tspan x="3032.5" dy="12">func3</tspan><tspan x="3032.5" dy="12">0 of 0.02s (1.92%)</tspan></text></g>
<g id="n53" class="n c02"><rect x="5" y="1191" width="167" height="81"/><text class="f12" y="1210.5"><tspan x="88.5">runtime</tspan><tspan x="88.5" dy="17.4">(*mcache)</tspan><tspan x="88.5" dy="17.4">prepareForSweep</tspan><tspan x="88.5" dy="17.4">0.02s (1.92%)</tspan></text></g>
<g id="n54" class="n c01"><rect x="196" y="1191" width="126" height="78"/><text class="f11" y="1210.5"><tspan x="259">runtime</tspan><tspan x="259" dy="16.1">(*gList)</tspan><tspan x="259" dy="16.1">empty</tspan><tspan x="259" dy="16.1">0.01s (0.96%)</tspan></text></g>
<g id="n55" class="n c06"><rect x="346" y="1191" width="154" height="76"/><text class="f14" y="1215.2"><tspan x="423">runtime</tspan><tspan x="423" dy="19.7">nanotime</tspan><tspan x="423" dy="19.7">0.06s (5.77%)</tspan></text></g>
<g id="n56" class="n c31"><rect x="525" y="1194" width="154" height="75"/><text class="f11" y="1212"><tspan x="602">runtime</tspan><tspan x="602" dy="16.1">netpoll</tspan><tspan x="602" dy="16.1">0.01s (0.96%)</tspan><tspan x="602" dy="16.1">of 0.31s (29.81%)</tspan></text></g>
<g id="n57" class="n c17"><rect x="845" y="1208" width="127" height="48"/><text class="f8" y="1223.4"><tspan x="908.5">syscall</tspan><tspan x="908.5" dy="12">Syscall</tspan><tspan x="908.5" dy="12">0 of 0.17s (16.35%)</tspan></text></g>
<g id="n58" class="n c03"><rect x="1014" y="1208" width="119" height="48"/><text class="f8" y="1223.4"><tspan x="1073.5">pprof</tspan><tspan x="1073.5" dy="12">writeHeapProto</tspan><tspan x="1073.5" dy="12">0 of 0.03s (2.88%)</tspan></text></g>
<g id="n59" class="n c01"><rect x="1875" y="1195" width="126" height="74"/><text class="f11" y="1212.5"><tspan x="1938">payload</tspan><tspan x="1938" dy="16.1">(*Info_Pods)</tspan><tspan x="1938" dy="16.1">UnmarshalVT</tspan><tspan x="1938" dy="16.1">0.01s (0.96%)</tspan></text></g>
<g id="n60" class="n c01"><rect x="2043" y="1195" width="125" height="74"/><text class="f11" y="1212.5"><tspan x="2105.5">grpc</tspan><tspan x="2105.5" dy="16.1">(*picker)</tspan><tspan x="2105.5" dy="16.1">Pick</tspan><tspan x="2105.5" dy="16.1">0.01s (0.96%)</tspan></text></g>
<g id="n61" class="n c09"><rect x="2370" y="1193" width="144" height="76"/><text class="f11" y="1211.5"><tspan x="2442">runtime</tspan><tspan x="2442" dy="16.1">newobject</tspan><tspan x="2442" dy="16.1">0.01s (0.96%)</tspan><tspan x="2442" dy="16.1">of 0.09s (8.65%)</tspan></text></g>
<g id="n62" class="n c02"><rect x="2544" y="1208" width="118" height="48"/><text class="f8" y="1223.4"><tspan x="2603">runtime</tspan><tspan x="2603" dy="12">growslice</tspan><tspan x="2603" dy="12">0 of 0.02s (1.92%)</tspan></text></g>
<g id="n63" class="n c01"><rect x="2965" y="1203" width="135" height="58"/><text class="f11" y="1220.6"><tspan x="3032.5">runtime</tspan><tspan x="3032.5" dy="16.1">resolveTypeOff</tspan><tspan x="3032.5" dy="16.1">0.01s (0.96%)</tspan></text></g>
<g id="n64" class="n c30"><rect x="525" y="1345" width="154" height="75"/><text class="f11" y="1363"><tspan x="602">syscall</tspan><tspan x="602" dy="16.1">EpollWait</tspan><tspan x="602" dy="16.1">0.01s (0.96%)</tspan><tspan x="602" dy="16.1">of 0.30s (28.85%)</tspan></text></g>
<g id="n65" class="n c17"><rect x="702" y="1358" width="128" height="49"/><text class="f8" y="1373.9"><tspan x="766">syscall</tspan><tspan x="766" dy="12">RawSyscall6</tspan><tspan x="766" dy="12">0 of 0.17s (16.35%)</tspan></text></g>
<g id="n66" class="n c01"><rect x="854" y="1353" width="128" height="59"/><text class="f11" y="1371.1"><tspan x="918">runtime</tspan><tspan x="918" dy="16.1">exitsyscallfast</tspan><tspan x="918" dy="16.1">0.01s (0.96%)</tspan></text></g>
<g id="n67" class="n c01"><rect x="1007" y="1345" width="171" height="75"/><text class="f11" y="1363"><tspan x="1092.5">flate</tspan><tspan x="1092.5" dy="16.1">(*huffmanBitWriter)</tspan><tspan x="1092.5" dy="16.1">writeTokens</tspan><tspan x="1092.5" dy="16.1">0.01s (0.96%)</tspan></text></g>
<g id="n68" class="n c02"><rect x="1516" y="1359" width="119" height="48"/><text class="f8" y="1374.4"><tspan x="1575.5">runtime</tspan><tspan x="1575.5" dy="12">gcBgMarkWorker</tspan><tspan x="1575.5" dy="12">0 of 0.02s (1.92%)</tspan></text></g>
<g id="n69" class="n c16"><rect x="2353" y="1340" width="178" height="85"/><text class="f13" y="1360"><tspan x="2442">runtime</tspan><tspan x="2442" dy="18.7">mallocgc</tspan><tspan x="2442" dy="18.7">0.04s (3.85%)</tspan><tspan x="2442" dy="18.7">of 0.16s (15.38%)</tspan></text></g>
<g id="n70" class="n c47"><rect x="471" y="1513" width="262" height="115"/><text class="f24" y="1546.1"><tspan x="602">syscall</tspan><tspan x="602" dy="34.6">Syscall6</tspan><tspan x="602" dy="34.6">0.47s (45.19%)</tspan></text></g>
<g id="n71" class="n c05"><rect x="1614" y="1547" width="118" height="48"/><text class="f8" y="1562.4"><tspan x="1673">runtime</tspan><tspan x="1673" dy="12">systemstack</tspan><tspan x="1673" dy="12">0 of 0.05s (4.81%)</tspan></text></g>
<g id="n72" class="n c02"><rect x="2035" y="1539" width="216" height="63"/><text class="f12" y="1558.2"><tspan x="2143">runtime</tspan><tspan x="2143" dy="17.4">memclrNoHeapPointers</tspan><tspan x="2143" dy="17.4">0.02s (1.92%)</tspan></text></g>
<g id="n73" class="n c03"><rect x="2275" y="1533" width="149" height="75"/><text class="f11" y="1551"><tspan x="2349.5">runtime</tspan><tspan x="2349.5" dy="16.1">heapBitsSetType</tspan><tspan x="2349.5" dy="16.1">0.01s (0.96%)</tspan><tspan x="2349.5" dy="16.1">of 0.03s (2.88%)</tspan></text></g>
<g id="n74" class="n c01"><rect x="2449" y="1541" width="170" height="59"/><text class="f11" y="1559.1"><tspan x="2534">runtime</tspan><tspan x="2534" dy="16.1">deductSweepCredit</tspan><tspan x="2534" dy="16.1">0.01s (0.96%)</tspan></text></g>
<g id="n75" class="n c04"><rect x="2642" y="1537" width="146" height="67"/><text class="f13" y="1557.3"><tspan x="2715">runtime</tspan><tspan x="2715" dy="18.7">nextFreeFast</tspan><tspan x="2715" dy="18.7">0.04s (3.85%)</tspan></text></g>
<g id="n76" class="n c01"><rect x="1377" y="1726" width="124" height="59"/><text class="f11" y="1744.1"><tspan x="1439">runtime</tspan><tspan x="1439" dy="16.1">pcvalue</tspan><tspan x="1439" dy="16.1">0.01s (0.96%)</tspan></text></g>
<g id="n77" class="n c01"><rect x="1527" y="1719" width="136" height="74"/><text class="f11" y="1736.5"><tspan x="1595">runtime</tspan><tspan x="1595" dy="16.1">(*unwinder)</tspan><tspan x="1595" dy="16.1">resolveInternal</tspan><tspan x="1595" dy="16.1">0.01s (0.96%)</tspan></text></g>
<g id="n78" class="n c01"><rect x="1688" y="1719" width="126" height="74"/><text class="f11" y="1736.5"><tspan x="1751">runtime</tspan><tspan x="1751" dy="16.1">gclinkptr</tspan><tspan x="1751" dy="16.1">ptr</tspan><tspan x="1751" dy="16.1">0.01s (0.96%)</tspan></text></g>
<g id="n79" class="n c01"><rect x="1838" y="1726" width="149" height="59"/><text class="f11" y="1744.1"><tspan x="1912.5">runtime</tspan><tspan x="1912.5" dy="16.1">heapBitsForAddr</tspan><tspan x="1912.5" dy="16.1">0.01s (0.96%)</tspan></text></g>
<g id="n80" class="n c02"><rect x="2281" y="1716" width="138" height="80"/><text class="f12" y="1735"><tspan x="2350">runtime</tspan><tspan x="2350" dy="17.4">writeHeapBits</tspan><tspan x="2350" dy="17.4">write</tspan><tspan x="2350" dy="17.4">0.02s (1.92%)</tspan></text></g>
</g>
</svg>
